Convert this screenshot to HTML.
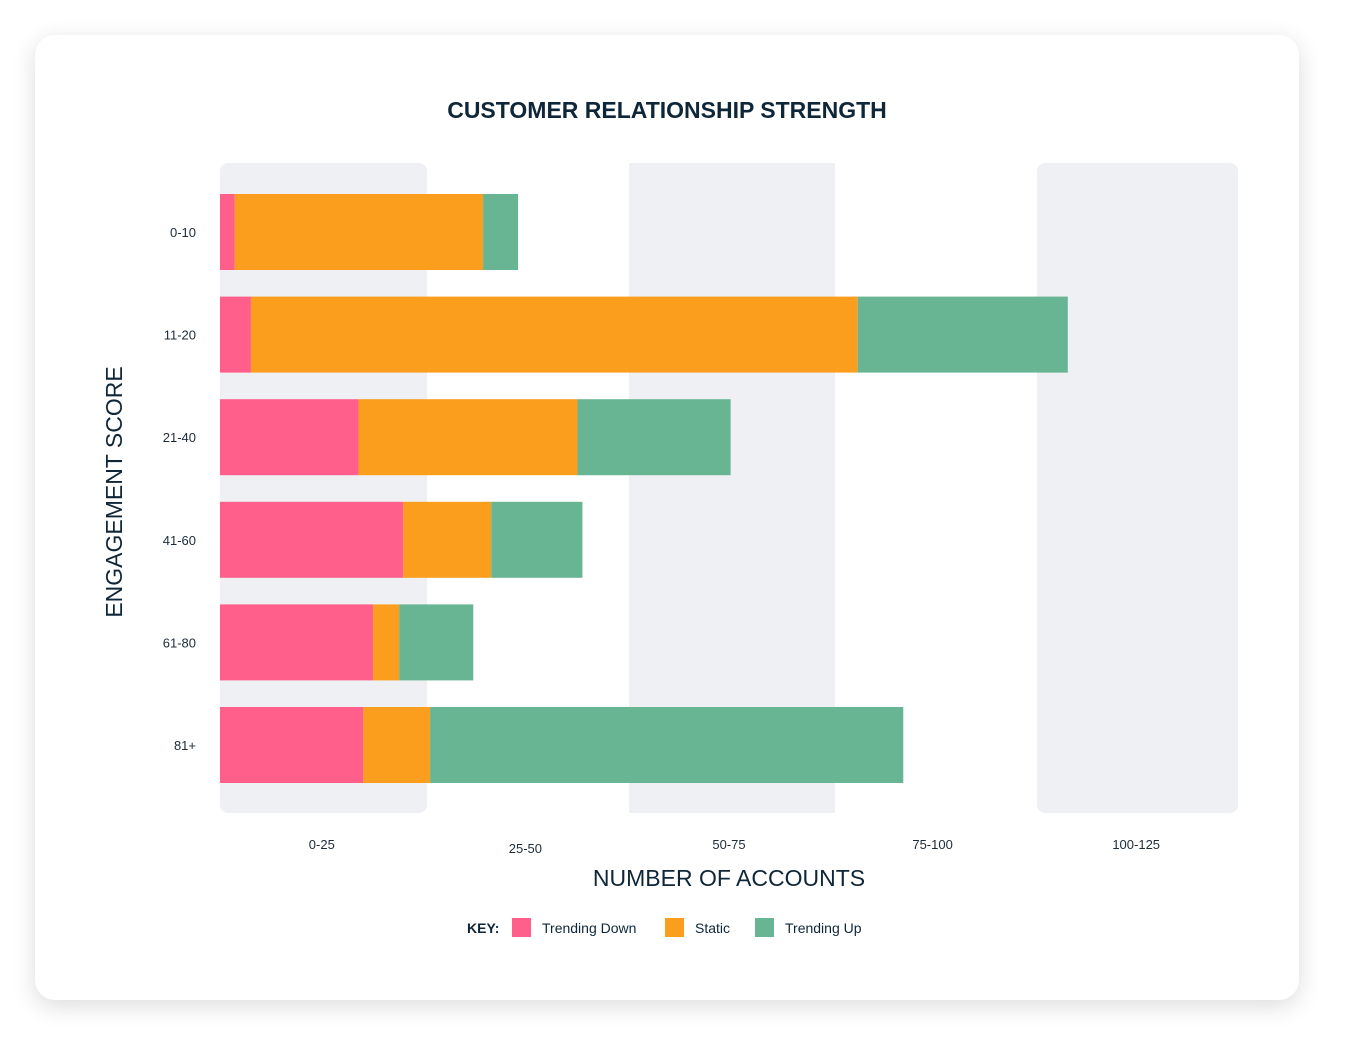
<!DOCTYPE html>
<html><head><meta charset="utf-8"><style>
html,body{margin:0;padding:0;background:#fff;width:1354px;height:1056px;overflow:hidden;font-family:"Liberation Sans","DejaVu Sans",sans-serif}
#card{position:absolute;left:35px;top:35px;width:1264px;height:965px;background:#fff;border-radius:20px;box-shadow:0 6px 24px rgba(0,0,0,0.14)}
svg{position:absolute;left:0;top:0}
</style></head><body>
<div id="card"></div>
<svg id="chart" width="1354" height="1056"></svg>
<script>
const categories=["0-10","11-20","21-40","41-60","61-80","81+"];
const trendingDown=[1.8,3.8,17,22.5,18.8,17.6];
const staticVals=[30.5,74.5,26.9,10.8,3.2,8.2];
const trendingUp=[4.3,25.8,18.8,11.2,9.1,58.1];
const tickLabels=["0-25","25-50","50-75","75-100","100-125"];
const xMax=125;
const NS="http://www.w3.org/2000/svg";
const svg=document.getElementById('chart');
const L=220,R=1238,T=163,B=813;
const x=v=>L+(v/xMax)*(R-L);
const rowStep=102.6;
const y=i=>232+rowStep*i;
function mk(tag,attrs,parent){const e=document.createElementNS(NS,tag);for(const k in attrs)e.setAttribute(k,attrs[k]);(parent||svg).appendChild(e);return e;}
const bandEdges=[220,427,629,835,1037,1238];
tickLabels.forEach((t,i)=>{
  if(i%2===0){const r=mk('rect',{x:bandEdges[i],y:T,width:bandEdges[i+1]-bandEdges[i],height:B-T,fill:'#eef0f3',rx:(i===0||i===4)?8:0});
  
  }
  const tx=mk('text',{x:x(i*25+12.5),y:i===1?853:849,'text-anchor':'middle','font-size':13,fill:'#1c2b3a'});
  tx.textContent=t;
  
  
});
const colors=['#ff5f8a','#fb9e1d','#67b592'];
const series=[trendingDown,staticVals,trendingUp];
const names=['trending-down','static','trending-up'];
categories.forEach((c,i)=>{
  let acc=0;
  series.forEach((s,k)=>{
    const r=mk('rect',{x:x(acc),y:y(i)-38,width:x(acc+s[i])-x(acc),height:76,fill:colors[k]});
    
    
    acc+=s[i];
  });
  const tx=mk('text',{x:196,y:y(i)+5,'text-anchor':'end','font-size':13,fill:'#1c2b3a'});
  tx.textContent=c;
  
  
});
</script>
<svg width="1354" height="1056" style="pointer-events:none">
<text x="667" y="118" text-anchor="middle" font-size="23" font-weight="bold" fill="#0e2638">CUSTOMER RELATIONSHIP STRENGTH</text>
<text x="729" y="886" text-anchor="middle" font-size="23" fill="#0e2638">NUMBER OF ACCOUNTS</text>
<text transform="translate(122,492) rotate(-90)" text-anchor="middle" font-size="23" fill="#0e2638">ENGAGEMENT SCORE</text>
<g font-size="14" fill="#0e2638">
<text x="467" y="933" font-weight="bold">KEY:</text>
<rect x="512" y="918" width="19" height="19" fill="#ff5f8a"/>
<text x="542" y="933">Trending Down</text>
<rect x="665" y="918" width="19" height="19" fill="#fb9e1d"/>
<text x="695" y="933">Static</text>
<rect x="755" y="918" width="19" height="19" fill="#67b592"/>
<text x="785" y="933">Trending Up</text>
</g>
</svg>
</body></html>
